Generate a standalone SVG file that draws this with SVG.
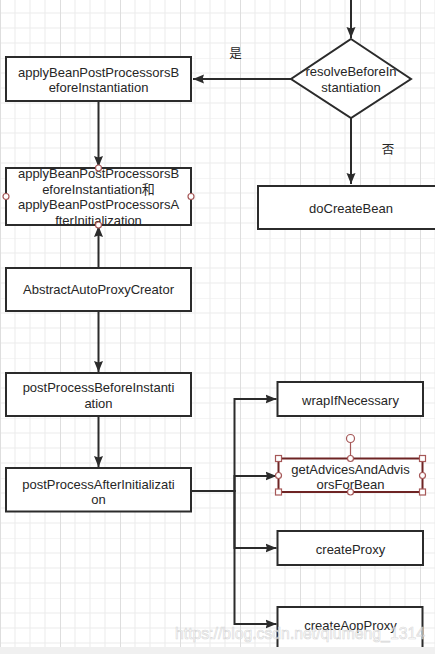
<svg xmlns="http://www.w3.org/2000/svg" width="435" height="654" viewBox="0 0 435 654">
<defs>
  <pattern id="grid" x="0" y="-2" width="60" height="60" patternUnits="userSpaceOnUse">
    <path d="M15 0V60M30 0V60M45 0V60M0 15H60M0 30H60M0 45H60M0 0H60" fill="none" stroke="#ebebeb" stroke-width="1"/>
    <path d="M0.5 0V60" fill="none" stroke="#dedede" stroke-width="1"/>
  </pattern>
  <marker id="arr" markerWidth="12" markerHeight="10" refX="11" refY="5" orient="auto" markerUnits="userSpaceOnUse">
    <path d="M0,0.5 L11,5 L0,9.5 L1.5,5 Z" fill="#2b2b2b"/>
  </marker>
</defs>
<style>
  .box{fill:#ffffff;stroke:#2b2b2b;stroke-width:2}
  .sel{fill:#ffffff;stroke:#6e2424;stroke-width:2}
  .t{font-family:"Liberation Sans",Arial,"Noto Sans CJK SC",sans-serif;font-size:13px;fill:#262626;text-anchor:middle}
  .cj{font-family:"Noto Sans CJK SC","Liberation Sans",sans-serif;font-size:12.5px;fill:#262626;text-anchor:middle}
  .c{fill:none;stroke:#2b2b2b;stroke-width:2;marker-end:url(#arr)}
  .h{fill:#ffffff;stroke:#a65858;stroke-width:1.2}
</style>
<rect x="0" y="0" width="435" height="654" fill="#ffffff"/>
<rect x="0" y="0" width="435" height="647" fill="url(#grid)"/>

<g id="connectors">
  <path class="c" d="M351,0 V38"/>
  <path class="c" d="M291,79 H193"/>
  <path class="c" d="M351,118 V184"/>
  <path class="c" d="M98.5,101 V167"/>
  <path class="c" d="M98.5,268 V226"/>
  <path class="c" d="M98.5,311 V372"/>
  <path class="c" d="M98.5,416 V467"/>
  <path class="c" d="M191,491 H234.5 V399 H276.5"/>
  <path class="c" d="M191,491 H234.5 V476 H276.5"/>
  <path class="c" d="M191,491 H234.5 V548 H276.5"/>
  <path class="c" d="M191,491 H234.5 V624 H276.5"/>
  <text class="cj" x="235.5" y="58">是</text>
  <text class="cj" x="388" y="154">否</text>
</g>

<g id="resolveBeforeInstantiation">
  <path class="box" d="M351,39 L411,79 L351,118 L291,79 Z"/>
  <text class="t" x="351" y="76">resolveBeforeIn</text>
  <text class="t" x="351" y="91.5">stantiation</text>
</g>

<g id="applyBefore">
  <rect class="box" x="6" y="57" width="185" height="44"/>
  <text class="t" x="98.5" y="77">applyBeanPostProcessorsB</text>
  <text class="t" x="98.5" y="92">eforeInstantiation</text>
</g>

<g id="applyBoth">
  <rect class="box" x="6" y="168" width="185" height="57"/>
  <text class="t" x="98.5" y="178">applyBeanPostProcessorsB</text>
  <text class="t" x="98.5" y="193.5">eforeInstantiation和</text>
  <text class="t" x="98.5" y="209">applyBeanPostProcessorsA</text>
  <text class="t" x="98.5" y="224.5">fterInitialization</text>
  <circle class="h" cx="98.5" cy="168" r="3"/>
  <circle class="h" cx="6" cy="196.5" r="3"/>
  <circle class="h" cx="191" cy="196.5" r="3"/>
  <circle class="h" cx="98.5" cy="225" r="3"/>
</g>

<g id="doCreateBean">
  <rect class="box" x="258" y="186" width="190" height="43"/>
  <text class="t" x="351" y="213">doCreateBean</text>
</g>

<g id="AbstractAutoProxyCreator">
  <rect class="box" x="6" y="268" width="185" height="43"/>
  <text class="t" x="98.5" y="294">AbstractAutoProxyCreator</text>
</g>

<g id="postProcessBeforeInstantiation">
  <rect class="box" x="6" y="373" width="185" height="43"/>
  <text class="t" x="98.5" y="392">postProcessBeforeInstanti</text>
  <text class="t" x="98.5" y="407.5">ation</text>
</g>

<g id="postProcessAfterInitialization">
  <rect class="box" x="6" y="468" width="185" height="43.5"/>
  <text class="t" x="98.5" y="488.5">postProcessAfterInitializati</text>
  <text class="t" x="98.5" y="503.5">on</text>
</g>

<g id="wrapIfNecessary">
  <rect class="box" x="277.5" y="382" width="145.5" height="34"/>
  <text class="t" x="350.5" y="404.5">wrapIfNecessary</text>
</g>

<g id="getAdvicesAndAdvisorsForBean">
  <rect class="sel" x="278.5" y="458.5" width="144" height="33.5"/>
  <text class="t" x="350.5" y="473.5">getAdvicesAndAdvis</text>
  <text class="t" x="350.5" y="488.5">orsForBean</text>
  <line x1="350.5" y1="442" x2="350.5" y2="458" stroke="#a65858" stroke-width="1.2"/>
  <circle class="h" cx="350.5" cy="438.5" r="4"/>
  <circle class="h" cx="350.5" cy="458.5" r="3"/>
  <circle class="h" cx="350.5" cy="492" r="3"/>
  <circle class="h" cx="278.5" cy="475.5" r="3"/>
  <circle class="h" cx="422.5" cy="475.5" r="3"/>
  <rect class="h" x="275.5" y="455.5" width="6" height="6"/>
  <rect class="h" x="419.5" y="455.5" width="6" height="6"/>
  <rect class="h" x="275.5" y="489" width="6" height="6"/>
  <rect class="h" x="419.5" y="489" width="6" height="6"/>
</g>

<g id="createProxy">
  <rect class="box" x="277.5" y="531" width="145.5" height="34"/>
  <text class="t" x="350.5" y="553.5">createProxy</text>
</g>

<g id="createAopProxy">
  <rect class="box" x="277.5" y="607" width="145" height="50"/>
  <text class="t" x="350.5" y="629.5">createAopProxy</text>
</g>

<text x="175" y="639" font-family="Liberation Sans,Arial,sans-serif" font-size="17" textLength="250" lengthAdjust="spacingAndGlyphs" fill="#ffffff" fill-opacity="0.55" stroke="#cfcfcf" stroke-width="0.7" stroke-opacity="0.8">https://blog.csdn.net/qiumeng_1314</text>
<rect x="0" y="647" width="435" height="7" fill="#f0f0f0"/>
</svg>
